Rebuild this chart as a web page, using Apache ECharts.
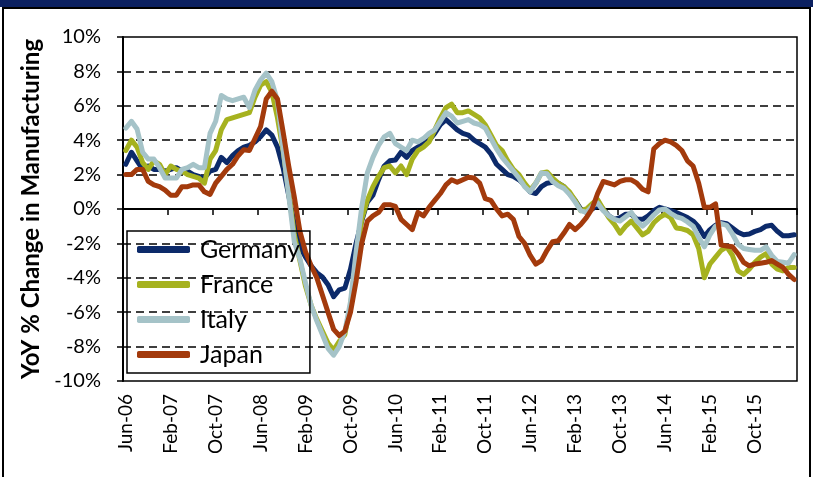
<!DOCTYPE html>
<html>
<head>
<meta charset="utf-8">
<script src="https://cdn.jsdelivr.net/npm/echarts@6/dist/echarts.min.js"></script>
<style>
  html, body { margin: 0; padding: 0; background: #fff; }
  #chart { width: 813px; height: 477px; }
</style>
</head>
<body>
<div id="chart"></div>
<script>
// months, Jun-06 .. May-16
const months = [
  'Jun-06', 'Jul-06', 'Aug-06', 'Sep-06', 'Oct-06', 'Nov-06', 'Dec-06',
  'Jan-07', 'Feb-07', 'Mar-07', 'Apr-07', 'May-07', 'Jun-07', 'Jul-07', 'Aug-07', 'Sep-07', 'Oct-07', 'Nov-07', 'Dec-07',
  'Jan-08', 'Feb-08', 'Mar-08', 'Apr-08', 'May-08', 'Jun-08', 'Jul-08', 'Aug-08', 'Sep-08', 'Oct-08', 'Nov-08', 'Dec-08',
  'Jan-09', 'Feb-09', 'Mar-09', 'Apr-09', 'May-09', 'Jun-09', 'Jul-09', 'Aug-09', 'Sep-09', 'Oct-09', 'Nov-09', 'Dec-09',
  'Jan-10', 'Feb-10', 'Mar-10', 'Apr-10', 'May-10', 'Jun-10', 'Jul-10', 'Aug-10', 'Sep-10', 'Oct-10', 'Nov-10', 'Dec-10',
  'Jan-11', 'Feb-11', 'Mar-11', 'Apr-11', 'May-11', 'Jun-11', 'Jul-11', 'Aug-11', 'Sep-11', 'Oct-11', 'Nov-11', 'Dec-11',
  'Jan-12', 'Feb-12', 'Mar-12', 'Apr-12', 'May-12', 'Jun-12', 'Jul-12', 'Aug-12', 'Sep-12', 'Oct-12', 'Nov-12', 'Dec-12',
  'Jan-13', 'Feb-13', 'Mar-13', 'Apr-13', 'May-13', 'Jun-13', 'Jul-13', 'Aug-13', 'Sep-13', 'Oct-13', 'Nov-13', 'Dec-13',
  'Jan-14', 'Feb-14', 'Mar-14', 'Apr-14', 'May-14', 'Jun-14', 'Jul-14', 'Aug-14', 'Sep-14', 'Oct-14', 'Nov-14', 'Dec-14',
  'Jan-15', 'Feb-15', 'Mar-15', 'Apr-15', 'May-15', 'Jun-15', 'Jul-15', 'Aug-15', 'Sep-15', 'Oct-15', 'Nov-15', 'Dec-15',
  'Jan-16', 'Feb-16', 'Mar-16', 'Apr-16', 'May-16'
];

// YoY % change in manufacturing
const germany = [
  2.6, 3.3, 2.8, 2.3, 2.5, 2.3, 2.3, 2.2, 2.3, 2.4, 2.2, 2.2, 2.0, 1.9, 1.8, 2.2, 2.3, 3.0, 2.7, 3.1,
  3.4, 3.6, 3.7, 3.9, 4.2, 4.6, 4.3, 3.6, 2.4, 0.8, -0.9, -2.2, -2.8, -3.3, -3.7, -3.95, -4.4, -5.1, -4.7, -4.6,
  -3.5, -2.0, -0.7, 0.4, 0.8, 1.7, 2.5, 2.8, 2.85, 3.3, 3.0, 3.4, 3.6, 3.8, 4.0, 4.4, 4.9, 5.2, 4.9, 4.6,
  4.4, 4.3, 4.0, 3.8, 3.6, 3.2, 2.6, 2.3, 2.0, 1.9, 1.7, 1.4, 1.0, 0.9, 1.3, 1.5, 1.55, 1.5, 1.3, 0.9,
  0.5, 0.0, -0.2, 0.0, 0.2, 0.0, -0.4, -0.6, -0.5, -0.3, -0.3, -0.6, -0.6, -0.4, -0.1, 0.1, 0.0, -0.1, -0.2, -0.35,
  -0.5, -0.7, -1.05, -1.6, -1.2, -0.95, -0.8, -0.85, -1.1, -1.35, -1.5, -1.45, -1.3, -1.2, -1.0, -0.95, -1.3, -1.55, -1.55, -1.5
];
const france = [
  3.4, 4.0, 3.6, 2.7, 2.3, 2.8, 2.6, 2.0, 2.5, 2.3, 2.2, 2.0, 1.9, 1.8, 1.5, 2.9, 3.4, 4.6, 5.2, 5.3,
  5.4, 5.5, 5.6, 6.5, 7.2, 7.4, 6.8, 5.3, 3.4, 1.0, -1.5, -3.0, -4.5, -5.6, -6.4, -7.1, -7.8, -8.2, -7.7, -7.3,
  -5.6, -3.0, -0.6, 0.5, 1.3, 1.9, 2.4, 2.5, 2.1, 2.5, 2.0, 2.9, 3.4, 3.6, 3.9, 4.6, 5.3, 5.9, 6.1, 5.6,
  5.6, 5.7, 5.5, 5.3, 4.9, 4.3, 3.7, 3.4, 2.8, 2.3, 2.0, 1.5, 1.1, 1.5, 2.1, 2.15, 1.8, 1.5, 1.3, 1.0,
  0.5, -0.1, 0.0, 0.3, 0.55, 0.0, -0.5, -0.9, -1.4, -1.0, -0.7, -1.1, -1.5, -1.3, -0.8, -0.5, -0.3, -0.5, -1.1, -1.15,
  -1.25, -1.5, -2.3, -4.0, -3.2, -2.8, -2.4, -2.2, -2.7, -3.6, -3.8, -3.5, -3.1, -2.8, -2.6, -3.2, -3.5, -3.6, -3.4, -3.4
];
const italy = [
  4.7, 5.1, 4.65, 3.3, 2.9, 2.9, 2.4, 1.8, 1.8, 1.8, 2.3, 2.4, 2.6, 2.4, 2.4, 4.4, 5.1, 6.6, 6.4, 6.3,
  6.4, 6.5, 5.9, 6.9, 7.5, 7.9, 7.4, 6.3, 3.5, 0.8, -1.9, -2.9, -4.3, -5.6, -6.5, -7.3, -8.1, -8.5, -8.0, -7.1,
  -5.4, -2.5, 0.1, 2.1, 3.0, 3.7, 4.2, 4.4, 3.8, 3.6, 3.4, 4.0, 3.9, 4.1, 4.4, 4.6, 5.1, 5.6, 5.4, 5.0,
  5.1, 5.2, 5.0, 4.9, 4.7, 4.1, 3.5, 3.0, 2.6, 2.2, 1.8, 1.3, 1.0, 1.5, 2.1, 2.05, 1.6, 1.35, 1.2, 0.85,
  0.4, -0.1, -0.2, 0.15, 0.35, -0.1, -0.4, -0.6, -0.7, -0.45, -0.2, -0.7, -1.0, -0.7, -0.35, -0.05, 0.0, -0.25, -0.45, -0.55,
  -0.75, -1.0, -1.65, -2.2, -1.5, -1.0, -0.85, -0.95, -1.45, -2.05, -2.3, -2.35, -2.4, -2.4, -2.2, -2.7, -3.05, -3.1, -3.15, -2.65
];
const japan = [
  2.0, 2.0, 2.3, 2.3, 1.6, 1.4, 1.3, 1.1, 0.8, 0.8, 1.3, 1.3, 1.4, 1.4, 1.0, 0.85, 1.5, 1.9, 2.3, 2.6,
  3.1, 3.45, 3.4, 4.1, 4.8, 6.4, 6.85, 6.4, 4.5, 2.5, 0.7, -1.3, -2.5, -3.3, -4.0, -5.0, -6.0, -7.0, -7.35, -7.1,
  -6.0, -4.2, -2.0, -0.7, -0.4, -0.2, 0.25, 0.25, 0.15, -0.6, -0.9, -1.2, -0.2, -0.4, 0.1, 0.5, 0.9, 1.4, 1.7, 1.55,
  1.7, 1.85, 1.8, 1.5, 0.6, 0.5, 0.0, -0.4, -0.3, -0.6, -1.6, -2.0, -2.7, -3.2, -3.0, -2.4, -1.9, -1.85, -1.4, -0.9,
  -1.2, -0.9, -0.5, 0.0, 0.9, 1.6, 1.5, 1.4, 1.6, 1.7, 1.7, 1.5, 1.15, 1.0, 3.5, 3.8, 4.0, 3.9, 3.7, 3.4,
  2.8, 2.5, 1.5, 0.1, 0.1, 0.3, -2.1, -2.15, -2.2, -2.6, -3.1, -3.3, -3.2, -3.15, -3.1, -3.0, -3.2, -3.4, -3.8, -4.1
];

const seriesNames = ['Germany', 'France', 'Italy', 'Japan'];
const seriesColors = ['#0c2a6a', '#a6b21f', '#a5c3c8', '#a33a0c'];
const seriesData = [germany, france, italy, japan];

const font = 'Lato, "Noto Sans", sans-serif';

const chart = echarts.init(document.getElementById('chart'));

const option = {
  backgroundColor: '#fff',
  animation: false,
  // 外框和顶部深蓝条
  graphic: [
    { type: 'rect', shape: { x: 0, y: 0, width: 813, height: 7 }, style: { fill: '#0b2060' }, silent: true },
    { type: 'rect', shape: { x: 3, y: 8, width: 807, height: 480 }, style: { fill: 'none', stroke: '#000', lineWidth: 2 }, silent: true }
  ],
  grid: {
    left: 123,
    right: 16,
    top: 37,
    bottom: 96,
    show: true,
    borderColor: '#000',
    borderWidth: 1.5
  },
  legend: {
    orient: 'vertical',
    left: 127,
    top: 231,
    padding: [6, 10, 6, 10],
    itemGap: 10,
    itemWidth: 53,
    itemHeight: 7,
    icon: 'roundRect',
    borderColor: '#000',
    borderWidth: 1.5,
    backgroundColor: 'transparent',
    textStyle: { fontFamily: font, fontSize: 25, color: '#000', padding: [0, 0, 0, 5] },
    data: seriesNames
  },
  xAxis: [
    {
      // 零线上的刻度
      type: 'category',
      data: months,
      boundaryGap: true,
      axisLine: { onZero: true, lineStyle: { color: '#000', width: 2 } },
      axisTick: { show: true, interval: 7, length: 6, lineStyle: { color: '#000', width: 1.5 } },
      axisLabel: { show: false },
      splitLine: { show: false }
    },
    {
      // 底部标签
      type: 'category',
      data: months,
      position: 'bottom',
      boundaryGap: true,
      axisLine: { show: false, onZero: false },
      axisTick: { show: false },
      axisLabel: {
        interval: 7,
        rotate: 90,
        margin: 13,
        fontFamily: font,
        fontSize: 19,
        color: '#000'
      },
      splitLine: { show: false }
    }
  ],
  yAxis: {
    type: 'value',
    min: -10,
    max: 10,
    interval: 2,
    name: 'YoY % Change in Manufacturing',
    nameLocation: 'middle',
    nameRotate: 90,
    nameGap: 78,
    nameTextStyle: { fontFamily: font, fontSize: 24, fontWeight: 'bold', color: '#000' },
    axisLine: { show: true, lineStyle: { color: '#000', width: 2 } },
    axisTick: { show: true, length: 6, lineStyle: { color: '#000', width: 1.5 } },
    axisLabel: {
      formatter: '{value}%',
      margin: 22,
      fontFamily: font,
      fontSize: 20,
      color: '#000'
    },
    splitLine: {
      show: true,
      showMinLine: false,
      showMaxLine: false,
      lineStyle: { color: '#000', width: 1.5, type: [8, 5] }
    }
  },
  series: seriesNames.map((name, k) => ({
    name: name,
    type: 'line',
    xAxisIndex: 0,
    data: seriesData[k],
    symbol: 'none',
    smooth: false,
    color: seriesColors[k],
    lineStyle: { width: 5, color: seriesColors[k], cap: 'round', join: 'round' }
  }))
};

chart.setOption(option);
</script>
</body>
</html>
